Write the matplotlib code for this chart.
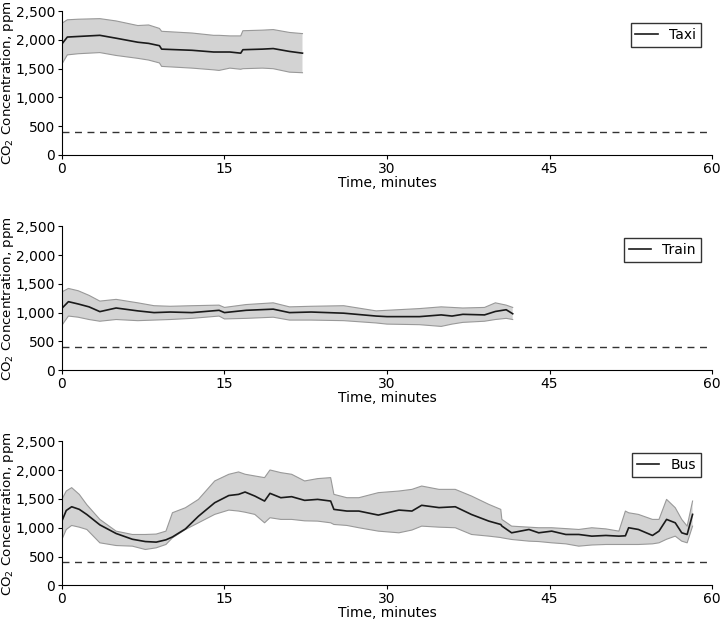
import matplotlib
matplotlib.use("Agg")
import matplotlib.pyplot as plt
from matplotlib.ticker import FuncFormatter

# Taxi: tiempo (min), media, banda inferior y superior (ppm)
taxi_t = [0, 0.5, 1.5, 3.5, 5, 7, 8, 9.0, 9.2, 12, 14, 14.5, 15.5, 16.5, 16.7, 18.5, 19.5, 21, 22.2]
taxi_mean = [1930, 2050, 2060, 2080, 2030, 1960, 1940, 1900, 1840, 1820, 1790, 1790, 1790, 1770, 1830, 1840, 1850, 1800, 1770]
taxi_low = [1580, 1740, 1760, 1780, 1730, 1680, 1650, 1600, 1540, 1510, 1480, 1470, 1510, 1490, 1500, 1510, 1500, 1440, 1430]
taxi_up = [2290, 2350, 2360, 2370, 2330, 2250, 2260, 2200, 2150, 2120, 2080, 2080, 2070, 2070, 2160, 2170, 2180, 2130, 2110]

# Train
train_t = [0, 0.6, 1.5, 2.5, 3.5, 5, 7, 8.5, 10, 12, 14.5, 15, 17, 19.5, 21, 23, 26, 29, 30, 33, 35, 36, 37, 39, 40, 41, 41.6]
train_mean = [1075, 1190, 1150, 1100, 1017, 1080, 1030, 1000, 1010, 1000, 1040, 1000, 1040, 1060, 1000, 1010, 990, 940, 930, 930, 960, 940, 970, 960, 1020, 1050, 980]
train_low = [780, 940, 920, 880, 850, 880, 860, 870, 880, 900, 940, 890, 900, 920, 870, 870, 860, 820, 800, 790, 760, 800, 830, 850, 880, 900, 880]
train_up = [1360, 1420, 1380, 1300, 1200, 1230, 1170, 1120, 1110, 1120, 1130, 1090, 1140, 1170, 1100, 1110, 1120, 1030, 1040, 1070, 1100, 1090, 1080, 1090, 1170, 1130, 1090]

# Bus
bus_t = [0, 0.4, 0.9, 1.6, 2.3, 3.5, 5, 6.5, 7.7, 8.7, 9.6, 10.2, 11.4, 12.6, 14.1, 15.4, 16.3, 16.9,
         17.8, 18.7, 19.2, 20.2, 21.2, 22.4, 23.6, 24.8, 25.1, 26.3, 27.4, 29.2, 31.1, 32.3, 33.2, 34.8,
         36.3, 37.8, 39.4, 40.5, 40.6, 41.5, 43.1, 44.0, 45.2, 46.5, 47.7, 48.9, 50.2, 51.4, 52.0, 52.3,
         53.2, 54.5, 55.1, 55.8, 56.6, 57.2, 57.7, 58.2]
bus_mean = [1117, 1300, 1365, 1320, 1230, 1050, 900, 800, 760, 750, 790, 840, 980, 1200, 1435, 1560, 1580, 1621,
            1551, 1464, 1598, 1522, 1540, 1476, 1493, 1464, 1319, 1290, 1290, 1220, 1307, 1290, 1390, 1350,
            1365, 1230, 1115, 1057, 1030, 912, 970, 912, 941, 883, 883, 854, 866, 854, 860, 1000,
            970, 866, 941, 1145, 1086, 912, 883, 1232]
bus_low = [796, 970, 1040, 1010, 970, 738, 691, 680, 622, 651, 709, 825, 970, 1086, 1232, 1307, 1290, 1270,
           1232, 1086, 1174, 1145, 1145, 1120, 1115, 1086, 1057, 1040, 1000, 941, 912, 960, 1028, 1010,
           1000, 883, 854, 830, 825, 796, 767, 760, 738, 720, 680, 700, 709, 709, 709, 709,
           709, 720, 738, 800, 854, 767, 738, 1028]
bus_up = [1493, 1638, 1697, 1580, 1400, 1145, 941, 883, 883, 890, 941, 1261, 1348, 1493, 1813, 1929, 1970, 1930,
          1900, 1871, 2004, 1958, 1929, 1813, 1854, 1871, 1580, 1522, 1522, 1610, 1638, 1667, 1725, 1667,
          1667, 1551, 1406, 1319, 1145, 1028, 1010, 1000, 1000, 985, 970, 1000, 980, 941, 1290, 1260,
          1232, 1145, 1145, 1493, 1348, 1145, 1028, 1464]

nombres = ["Taxi", "Train", "Bus"]
series = [(taxi_t, taxi_mean, taxi_low, taxi_up),
          (train_t, train_mean, train_low, train_up),
          (bus_t, bus_mean, bus_low, bus_up)]
ambiente = 400

fig = plt.figure(figsize=(7.2, 6.2), dpi=100)
fondos = [0.75, 0.403, 0.056]

for nombre, (t, m, lo, up), b in zip(nombres, series, fondos):
    ax = fig.add_axes([0.086, b, 0.903, 0.232])
    ax.fill_between(t, lo, up, facecolor="#d3d3d3", edgecolor="none")
    ax.plot(t, lo, color="#999999", linewidth=0.8)
    ax.plot(t, up, color="#999999", linewidth=0.8)
    ax.plot(t, m, color="#1a1a1a", linewidth=1.2, label=nombre)
    ax.axhline(y=ambiente, color="#333333", linestyle=(0, (5, 4)), linewidth=1)

    ax.set_xlim(0, 60)
    ax.set_ylim(0, 2500)
    ax.set_xticks([0, 15, 30, 45, 60])
    ax.set_yticks(range(0, 2501, 500))
    ax.yaxis.set_major_formatter(FuncFormatter(lambda v, p: f"{int(v):,}"))
    ax.spines["top"].set_visible(False)
    ax.spines["right"].set_visible(False)
    ax.tick_params(direction="out", length=3, pad=2, labelsize=10)
    ax.set_xlabel("Time, minutes", fontsize=10)
    ax.xaxis.set_label_coords(0.5, -0.145)
    ax.set_ylabel("CO$_2$ Concentration, ppm", fontsize=9.6)
    ax.yaxis.set_label_coords(-0.071, 0.5)

    leg = ax.legend(loc="upper right", bbox_to_anchor=(0.993, 0.965), fontsize=10,
                    handlelength=1.6, fancybox=False, framealpha=1, borderpad=0.35)
    leg.get_frame().set_edgecolor("#333333")

fig.savefig("out.png", dpi=100)
